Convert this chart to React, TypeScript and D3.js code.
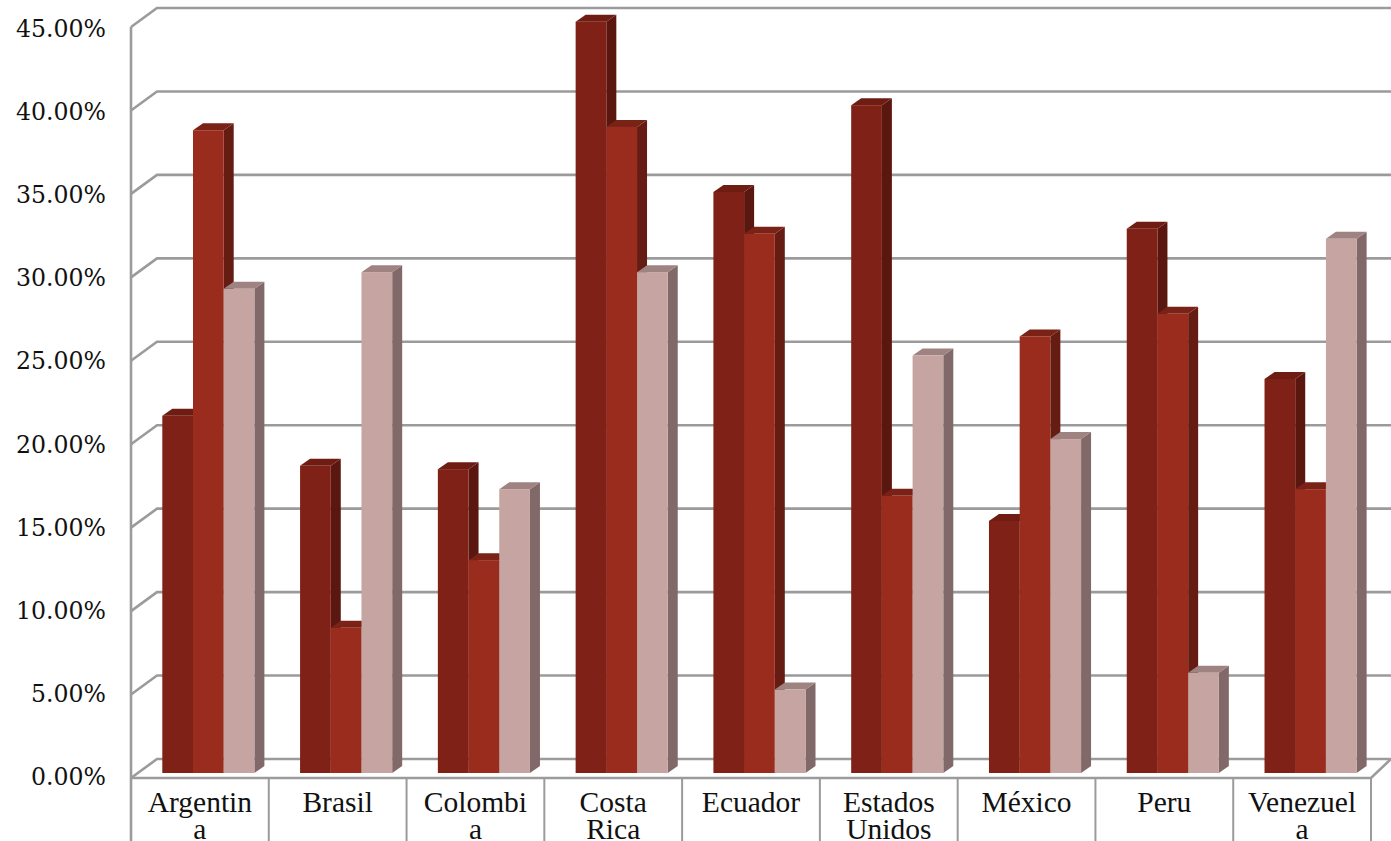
import React from "react";
import * as d3 from "d3";

const categories = [["Argentin","a"],["Brasil"],["Colombi","a"],["Costa","Rica"],["Ecuador"],["Estados","Unidos"],["México"],["Peru"],["Venezuel","a"]];
const seriesA = [21.4,18.4,18.2,45,34.8,40,15.1,32.6,23.6];
const seriesB = [38.5,8.7,12.75,38.7,32.3,16.6,26.15,27.5,17];
const seriesC = [29,30,17,30,5,25,20,6,32];
const ticks = [0,5,10,15,20,25,30,35,40,45];
const palette = [
  { front: "#7f2116", top: "#6f1c12", side: "#59170f" },
  { front: "#9a2c1e", top: "#7b2217", side: "#651c13" },
  { front: "#c6a4a1", top: "#9e8381", side: "#806968" },
];
const GRID = "#9b9b9b";
const DX = 26, DY = -19, BDX = 10, BDY = -7;
const x = d3.scaleLinear().domain([0, categories.length]).range([131, 1371]);
const yFront = d3.scaleLinear().domain([0, 45]).range([778, 27]);
const yLabel = d3.scaleLinear().domain([0, 45]).range([785, 37]);
const yBar = d3.scaleLinear().domain([0, 45]).range([773, 21.7]);
const BAR_W = 30.7, BAR_OFF = 31.3;

export default function App() {
  const all = [seriesA, seriesB, seriesC];
  return (
    <svg width={1391} height={841} style={{ position: "absolute", left: 0, top: 0, background: "#fff" }}>
      {ticks.map((t) => {
        const y = yFront(t);
        return (
          <g key={t}>
            <path d={`M${x(0)},${y}L${x(0)+DX},${y+DY}L1391,${y+DY}`} fill="none" stroke={GRID} strokeWidth={2.6} />
            <text x={106} y={yLabel(t)} textAnchor="end" fontFamily="'DejaVu Serif'" fontSize={23.6} fill="#111">{t.toFixed(2)}%</text>
          </g>
        );
      })}
      <line x1={x(0)} x2={x(0)} y1={yFront(45)} y2={841} stroke={GRID} strokeWidth={2.6} />
      <path d={`M${x(0)},${yFront(0)}L${x(9)},${yFront(0)}L1391,${yFront(0)+DY}`} fill="none" stroke={GRID} strokeWidth={2.6} />
      {categories.map((c, i) => (
        <g key={i}>
          <line x1={x(i+1)} x2={x(i+1)} y1={yFront(0)} y2={841} stroke={GRID} strokeWidth={2} />
          {c.map((s, j) => (
            <text key={j} x={(x(i)+x(i+1))/2} y={812+j*27} textAnchor="middle" fontFamily="'Liberation Serif'" fontSize={29.5} fill="#111">{s}</text>
          ))}
        </g>
      ))}
      {categories.map((_, i) => (
        <g key={i}>
          {[0,1,2].map((k) => {
            const x0 = x(i) + BAR_OFF + k * BAR_W;
            const x1 = x0 + BAR_W;
            const y0 = yBar(0);
            const y1 = yBar(all[k][i]);
            const p = palette[k];
            return (
              <g key={k}>
                <path d={`M${x1},${y1}L${x1+BDX},${y1+BDY}L${x1+BDX},${y0+BDY}L${x1},${y0}Z`} fill={p.side} />
                <path d={`M${x0},${y1}L${x0+BDX},${y1+BDY}L${x1+BDX},${y1+BDY}L${x1},${y1}Z`} fill={p.top} />
                <rect x={x0} y={y1} width={BAR_W} height={y0-y1} fill={p.front} />
              </g>
            );
          })}
        </g>
      ))}
    </svg>
  );
}
